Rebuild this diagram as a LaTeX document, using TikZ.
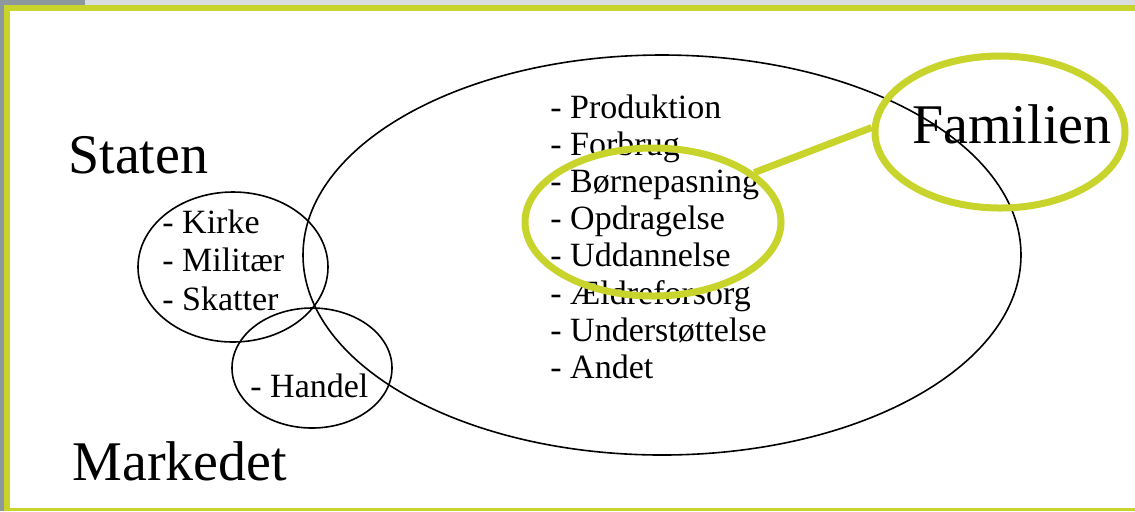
\documentclass[tikz,border=0pt]{standalone}
\usepackage{fontspec}
\setmainfont{Liberation Serif}
\usetikzlibrary{shapes.geometric}
\definecolor{mgreen}{RGB}{200, 212, 44}
\definecolor{mgray}{RGB}{141, 151, 158}
\definecolor{mlightgray}{RGB}{217, 221, 224}
\tikzset{ring/.style = {draw, ellipse, inner sep = 0, line width = 0.8pt}}
\tikzset{hoop/.style = {draw = mgreen, ellipse, inner sep = 0, line width = 3.5pt}}
\tikzset{big/.style = {anchor = base west, inner sep = 0, font = \fontsize{28}{32}\selectfont}}
\tikzset{item/.style = {anchor = base west, inner sep = 0, font = \fontsize{17}{19}\selectfont}}

\begin{document}
\begin{tikzpicture}[x = 0.5pt, y = -0.5pt]
      \useasboundingbox (0, 0) rectangle (1135, 511);
      \fill [white] (0, 0) rectangle (1135, 511);

      % frame
      \fill [mlightgray] (85, 0) rectangle (1135, 5);
      \fill [mgray] (0, 0) rectangle (85, 5);
      \fill [mgray] (0, 0) rectangle (4, 511);
      \fill [mgreen] (4, 5) rectangle (1135, 11);
      \fill [mgreen] (4, 5) rectangle (10, 511);
      \fill [mgreen] (4, 508) rectangle (1135, 511);

      % the three spheres
      \node [ring, minimum width = 359pt, minimum height = 200pt] (familie) at (662, 255) {};
      \node [ring, minimum width = 95pt, minimum height = 75pt] (stat) at (233, 267) {};
      \node [ring, minimum width = 80pt, minimum height = 60pt] (marked) at (312, 368) {};

      \node [big] (staten) at (68, 173) {Staten};
      \node [big] (markedet) at (72, 480) {Markedet};

      \foreach \opg [count = \i] in {Kirke, Militær, Skatter}
        \node [item] (stat\i) at (162, {233 + 38.5*(\i - 1)}) {- \opg};
      \node [item] (handel) at (250, 397) {- Handel};

      \foreach \opg [count = \i] in {Produktion, Forbrug, Børnepasning, Opdragelse,
                                    Uddannelse, Ældreforsorg, Understøttelse, Andet}
        \node [item] (opg\i) at (550, {118 + 37.2*(\i - 1)}) {- \opg};

      % highlight
      \node [hoop, minimum width = 128pt, minimum height = 74pt] (udvalg) at (653, 222) {};
      \node [hoop, minimum width = 125pt, minimum height = 76pt] (famring) at (1000, 132) {};
      \draw [mgreen, line width = 3.5pt] (udvalg.26) -- (famring.178);
      \node [big] (familien) at (912, 143) {Familien};
    \end{tikzpicture}
\end{document}
